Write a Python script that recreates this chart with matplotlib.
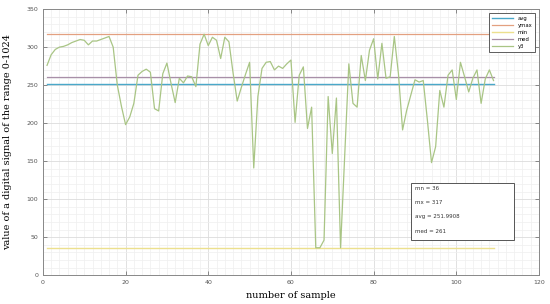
import matplotlib
matplotlib.use("Agg")
import matplotlib.pyplot as plt
from matplotlib.patches import Rectangle
import numpy as np

# sample values (x = 1..109)
y3 = [276, 290, 297, 300, 301, 303, 306, 308, 310, 309,
      303, 308, 308, 310, 312, 314, 300, 250, 222, 198,
      208, 226, 263, 268, 271, 267, 219, 216, 265, 279,
      252, 227, 259, 253, 262, 261, 248, 304, 317, 302,
      313, 309, 285, 313, 307, 266, 229, 247, 264, 280,
      141, 235, 272, 280, 281, 270, 275, 272, 278, 283,
      201, 263, 274, 193, 221, 36, 36, 46, 235, 160,
      233, 36, 157, 278, 226, 221, 289, 256, 296, 311,
      258, 305, 259, 261, 314, 265, 191, 217, 237, 257,
      254, 256, 204, 148, 169, 243, 221, 263, 270, 231,
      280, 261, 241, 259, 270, 226, 258, 270, 256]
samples = list(range(1, len(y3) + 1))

# statistics shown in the text box
mn = 36
mx = 317
avg = 251.9908
med = 261

fig = plt.figure(figsize=(5.5, 3.04), dpi=100)
ax = fig.add_axes([0.078, 0.095, 0.902, 0.875])

n = len(samples)
ax.plot(samples, np.full(n, avg), color="#4aa8c9", lw=1.0, label="avg")
ax.plot(samples, np.full(n, mx), color="#e3a080", lw=0.9, label="ymax")
ax.plot(samples, np.full(n, mn), color="#ece08e", lw=1.0, label="min")
ax.plot(samples, np.full(n, med), color="#a88fa8", lw=0.9, label="med")
ax.plot(samples, y3, color="#a9c585", lw=0.9, label="y3")

ax.set_xlim(0, 120)
ax.set_ylim(0, 350)
ax.set_xticks(np.arange(0, 121, 20))
ax.set_yticks(np.arange(0, 351, 50))
ax.set_xticks(np.arange(0, 121, 2), minor=True)
ax.set_yticks(np.arange(0, 351, 10), minor=True)
ax.grid(True, which="major", color="#dcdcdc", lw=0.6)
ax.grid(True, which="minor", color="#efefef", lw=0.5)
ax.set_axisbelow(True)

ax.tick_params(which="both", direction="in", top=True, right=True,
               labelsize=4.5, labelcolor="#555555", color="#777777")
ax.tick_params(which="major", length=3, width=0.6)
ax.tick_params(which="minor", length=0)
for s in ax.spines.values():
    s.set_color("#888888")
    s.set_linewidth(0.7)

ax.set_xlabel("number of sample", family="serif", fontsize=7, labelpad=4)
ax.set_ylabel("value of a digital signal of the range 0-1024",
              family="serif", fontsize=7, labelpad=10)

leg = ax.legend(loc="upper right", bbox_to_anchor=(0.998, 0.995), fontsize=3.8,
                handlelength=4, borderpad=0.6, labelspacing=0.35,
                fancybox=False, framealpha=1, edgecolor="#444444")
leg.get_frame().set_linewidth(0.6)

ax.add_patch(Rectangle((0.742, 0.132), 0.208, 0.214, transform=ax.transAxes,
                       facecolor="white", edgecolor="#555555", lw=0.7, zorder=5))
box_lines = [f"mn = {mn}", f"mx = {mx}", f"avg = {avg}", f"med = {med}"]
for i, t in enumerate(box_lines):
    ax.text(0.750, 0.327 - i * 0.054, t, transform=ax.transAxes,
            fontsize=4, color="#333333", va="center", zorder=6)

fig.savefig("out.png", dpi=100)
